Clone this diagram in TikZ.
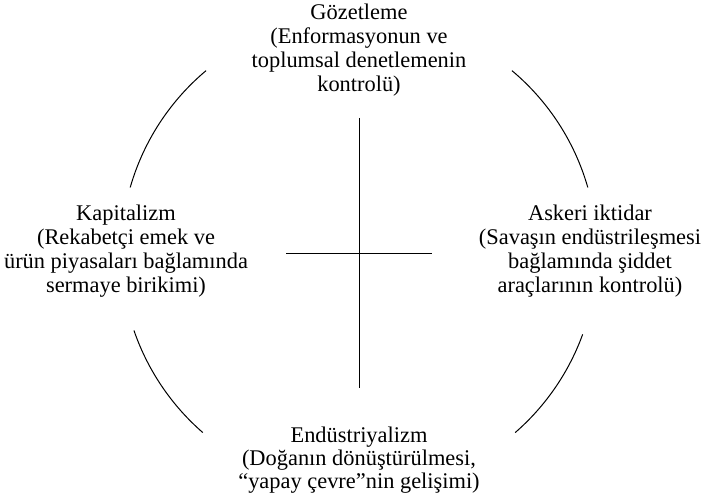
\documentclass[tikz,border=0pt]{standalone}
\usepackage{fontspec}
\setmainfont{Liberation Serif}

\begin{document}
\begin{tikzpicture}[
    x=1pt, y=1pt,
    txt/.style={align=center, anchor=base, inner sep=0pt,
                font=\fontsize{22.4}{24.2}\selectfont},
    rim/.style={line width=1pt},
    axis/.style={line width=1pt},
  ]
    \useasboundingbox (0,0) rectangle (704,502);
    \coordinate (o) at (359,249);

    % base anchor sits on the last line
    \node[txt] (gozet) at (359,410) {Gözetleme\\(Enformasyonun ve\\toplumsal denetlemenin\\kontrolü)};
    \node[txt] (kapital) at (126,209) {Kapitalizm\\(Rekabetçi emek ve\\ürün piyasaları bağlamında\\sermaye birikimi)};
    \node[txt] (askeri) at (590,209) {Askeri iktidar\\(Savaşın endüstrileşmesi\\bağlamında şiddet\\araçlarının kontrolü)};
    \node[txt, font=\fontsize{22.4}{23.2}\selectfont] (endus) at (359,13) {Endüstriyalizm\\(Doğanın dönüştürülmesi,\\“yapay çevre”nin gelişimi)};

    % cross
    \coordinate (vtop) at (359,384);
    \coordinate (vbot) at (359,114);
    \coordinate (hleft) at (286,248);
    \coordinate (hright) at (432,248);
    \draw[axis] (vtop) -- (vbot);
    \draw[axis] (hleft) -- (hright);

    % circle pieces
    \draw[rim] ([shift={(130:238)}]o) arc[start angle=130, end angle=164, radius=238];
    \draw[rim] ([shift={(16:238)}]o) arc[start angle=16, end angle=50, radius=238];
    \draw[rim] ([shift={(199:238)}]o) arc[start angle=199, end angle=229, radius=238];
    \draw[rim] ([shift={(-49:238)}]o) arc[start angle=-49, end angle=-20, radius=238];
  \end{tikzpicture}
\end{document}
